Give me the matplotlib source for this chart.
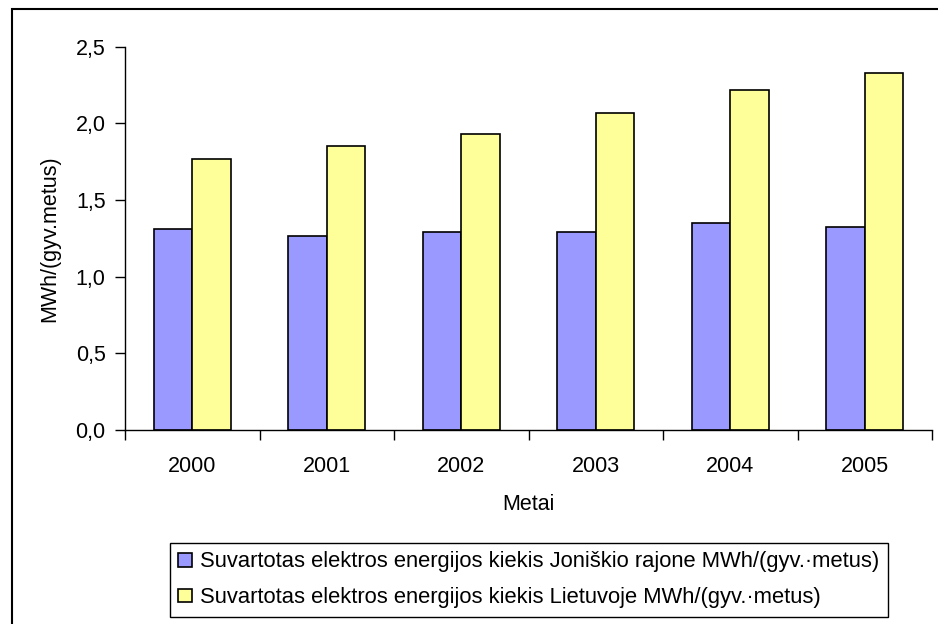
import numpy as np
import matplotlib
matplotlib.use("Agg")
import matplotlib.pyplot as plt
import matplotlib.ticker as ticker
from matplotlib.patches import Rectangle

plt.rcParams['font.family'] = ['Liberation Sans', 'DejaVu Sans']

years = ['2000', '2001', '2002', '2003', '2004', '2005']
joniskis = [1.31, 1.265, 1.29, 1.29, 1.35, 1.325]
lietuva = [1.77, 1.85, 1.93, 2.07, 2.22, 2.33]
label_j = 'Suvartotas elektros energijos kiekis Joniškio rajone MWh/(gyv.·metus)'
label_l = 'Suvartotas elektros energijos kiekis Lietuvoje MWh/(gyv.·metus)'

W, H = 938, 624
fig = plt.figure(figsize=(W/100, H/100), dpi=100)
ax = fig.add_axes([125/W, 1 - 430/H, 807/W, 383.3/H])

x = np.arange(len(years))
w = 0.286
ax.bar(x - w/2, joniskis, w, color='#9999FF', edgecolor='black', linewidth=1.2, label=label_j)
ax.bar(x + w/2, lietuva, w, color='#FFFF99', edgecolor='black', linewidth=1.2, label=label_l)

ax.set_xlim(-0.5, len(years) - 0.5)
ax.set_ylim(0, 2.5)
ax.yaxis.set_major_locator(ticker.MultipleLocator(0.5))
ax.yaxis.set_major_formatter(ticker.FuncFormatter(lambda v, p: f'{v:.1f}'.replace('.', ',')))

# category labels in the middle, tick marks on the boundaries
ax.set_xticks(x)
ax.set_xticklabels(years)
ax.tick_params(axis='x', which='major', length=0, labelsize=15.5, pad=19)
ax.set_xticks(np.arange(len(years) + 1) - 0.5, minor=True)
ax.tick_params(axis='x', which='minor', length=7, width=1, direction='out')
ax.tick_params(axis='y', length=7, width=1, labelsize=15.5, pad=7)

for s in ['top', 'right']:
    ax.spines[s].set_visible(False)
for s in ['left', 'bottom']:
    ax.spines[s].set_linewidth(1)

ax.set_ylabel('MWh/(gyv.metus)', fontsize=15.5, labelpad=11)
ax.set_xlabel('Metai', fontsize=15.5, labelpad=12)

leg = fig.legend(loc='upper left', bbox_to_anchor=(170/W, 1 - 543/H), fontsize=15.8,
                 frameon=True, fancybox=False, edgecolor='black', framealpha=1,
                 handlelength=0.6, handleheight=0.6, handletextpad=0.4,
                 labelspacing=0.68, borderpad=0.38, borderaxespad=0)
leg.get_frame().set_linewidth(1)

# outer chart border
fig.add_artist(Rectangle((12/W, -0.1), 1.0, (H - 9)/H + 0.1, transform=fig.transFigure,
                         fill=False, edgecolor='black', linewidth=1.5))

fig.savefig('out.png', dpi=100)
